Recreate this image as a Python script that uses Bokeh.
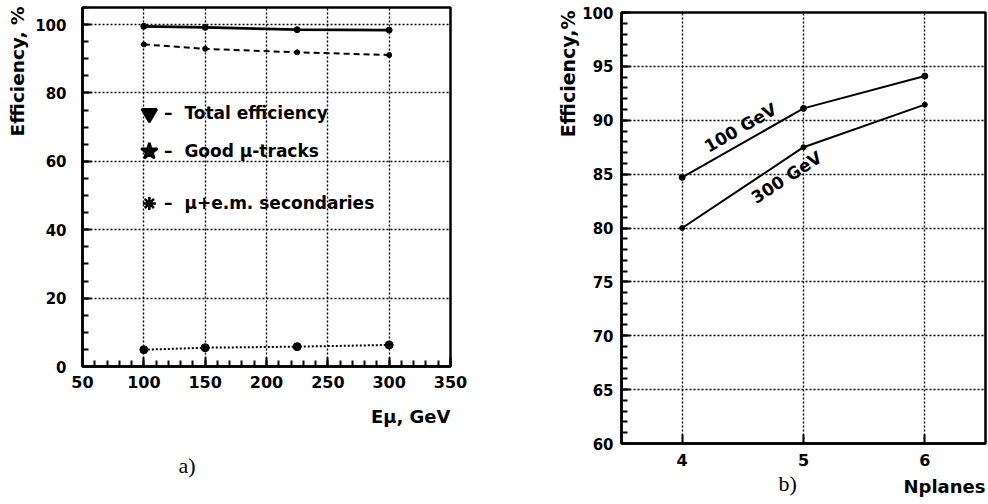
import math
from bokeh.plotting import figure
from bokeh.layouts import row, column
from bokeh.models import Label, SingleIntervalTicker, Range1d, Title
from bokeh.embed import file_html
from bokeh.resources import INLINE

# ---------------- data ----------------
energy = [100, 150, 225, 300]
total_eff = [99.5, 99.2, 98.5, 98.4]
good_mu = [94.2, 92.9, 91.9, 91.1]
mu_em_sec = [4.9, 5.5, 5.8, 6.3]

nplanes = [4, 5, 6]
eff_100 = [84.7, 91.1, 94.1]
eff_300 = [80.0, 87.5, 91.45]

legend_labels = ["\u2013\u00a0 Total efficiency", "\u2013\u00a0 Good \u03bc-tracks", "\u2013\u00a0 \u03bc+e.m. secondaries"]
legend_markers = ["inverted_triangle", "star", "asterisk"]

FONT = "DejaVu Sans"
SERIF = "Liberation Serif"


def style(p, xint, xminor, yint, yminor):
    p.background_fill_color = "white"
    p.border_fill_color = "white"
    p.outline_line_color = "black"
    p.outline_line_width = 2.5
    for ax, (iv, nm) in ((p.xaxis[0], (xint, xminor)), (p.yaxis[0], (yint, yminor))):
        ax.ticker = SingleIntervalTicker(interval=iv, num_minor_ticks=nm)
        ax.axis_line_color = "black"
        ax.axis_line_width = 2.5
        ax.major_tick_in = 9
        ax.major_tick_out = 0
        ax.minor_tick_in = 6
        ax.minor_tick_out = 0
        ax.major_tick_line_width = 2
        ax.minor_tick_line_width = 2
        ax.major_tick_line_color = "black"
        ax.minor_tick_line_color = "black"
        ax.major_label_text_font = FONT
        ax.major_label_text_font_style = "bold"
        ax.major_label_text_color = "black"
        ax.major_label_standoff = 9
    p.xaxis[0].major_label_text_font_size = "16px"
    p.yaxis[0].major_label_text_font_size = "15px"
    for g in (p.xgrid[0], p.ygrid[0]):
        g.grid_line_color = "black"
        g.grid_line_dash = "2 2"
        g.grid_line_width = 1.4
        g.grid_line_alpha = 1.0


def title(text, align, offset, standoff, font=FONT, size="17px", style_="bold"):
    return Title(text=text, align=align, offset=offset, standoff=standoff,
                 text_font=font, text_font_size=size, text_font_style=style_,
                 text_color="black")


# ---------------- left panel ----------------
pa = figure(width=500, height=500, output_backend="svg", toolbar_location=None,
            x_range=Range1d(50, 350), y_range=Range1d(0, 105),
            min_border_left=81, min_border_right=50, min_border_top=7, min_border_bottom=134)
style(pa, 50, 5, 20, 4)
pa.yaxis[0].major_label_standoff = 16

pa.line(energy, total_eff, line_color="black", line_width=2.8)
pa.scatter(energy, total_eff, size=6, color="black")
pa.line(energy, good_mu, line_color="black", line_width=2, line_dash="6 4")
pa.scatter(energy, good_mu, size=5, color="black")
pa.line(energy, mu_em_sec, line_color="black", line_width=2, line_dash="2 2")
pa.scatter(energy, mu_em_sec, size=8, color="black")

leg_y = [74.0, 62.9, 47.7]
leg_size = [15, 17, 13]
for lab, mk, yy, sz in zip(legend_labels, legend_markers, leg_y, leg_size):
    pa.scatter([104.5], [yy], marker=mk, size=sz, color="black", line_width=2.5)
    pa.add_layout(Label(x=116.5, y=yy, text=lab, text_font=FONT, text_font_style="bold",
                        text_font_size="17px", text_baseline="middle", text_align="left",
                        text_color="black"))

pa.add_layout(title("Efficiency, %", "right", -1, 9, size="18.5px"), "left")
pa.add_layout(title("E\u03bc, GeV", "right", 0, 26, size="18px"), "below")
pa.add_layout(title("a)", "left", 96, 22, font=SERIF, size="22px", style_="normal"), "below")

# ---------------- right panel ----------------
pb = figure(width=488, height=502, output_backend="svg", toolbar_location=None,
            x_range=Range1d(3.5, 6.5), y_range=Range1d(60, 100),
            min_border_left=121, min_border_right=3, min_border_top=12, min_border_bottom=59)
style(pb, 1, 0, 5, 5)
pb.yaxis[0].major_label_standoff = 8
pb.xaxis[0].major_label_standoff = 10

pb.line(nplanes, eff_100, line_color="black", line_width=2)
pb.scatter(nplanes, eff_100, size=6, color="black")
pb.line(nplanes, eff_300, line_color="black", line_width=2)
pb.scatter(nplanes, eff_300, size=5, color="black")

pb.add_layout(Label(x=4.48, y=89.3, text="100 GeV", text_font=FONT, text_font_style="bold",
                    text_font_size="17px", text_baseline="middle", text_align="center",
                    angle=math.radians(30), text_color="black"))
pb.add_layout(Label(x=4.86, y=84.7, text="300 GeV", text_font=FONT, text_font_style="bold",
                    text_font_size="17px", text_baseline="middle", text_align="center",
                    angle=math.radians(33), text_color="black"))

pb.add_layout(title("Efficiency,%", "right", -2, 1, size="19px"), "left")
pb.add_layout(title("Nplanes", "right", 0, 11, size="18px"), "below")
# caption placed through a side-panel label (side-panel annotations are not clipped to the frame)
pb.add_layout(Label(x=4.87, y=56.3, text="b)", text_font=SERIF, text_font_size="22px",
                    text_baseline="middle", text_align="center", text_color="black"), "left")

layout = row(column(pa), column(pb))
open("out.html", "w").write(file_html(layout, INLINE))
